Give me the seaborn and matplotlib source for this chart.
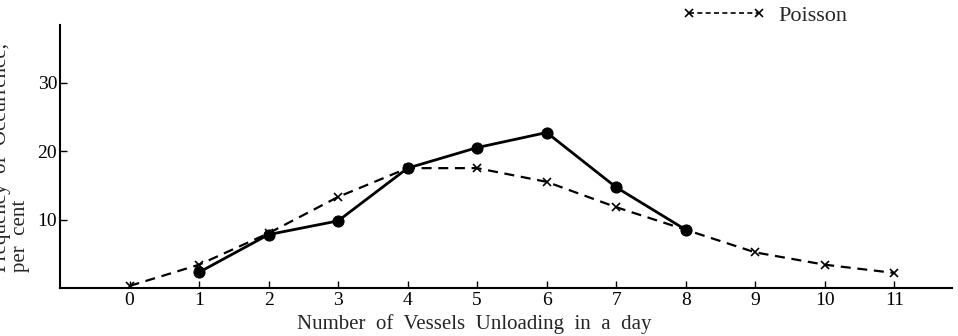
import matplotlib
matplotlib.use("Agg")
import matplotlib.pyplot as plt  # drawing
import seaborn as sns  # styling and line plots
import pandas as pd
from matplotlib.lines import Line2D

# values
vessels_observed = [1, 2, 3, 4, 5, 6, 7, 8]
freq_observed = [2.3, 7.8, 9.8, 17.5, 20.5, 22.7, 14.7, 8.5]

vessels_poisson = [0, 1, 2, 3, 4, 5, 6, 7, 8, 9, 10, 11]
freq_poisson = [0.3, 3.4, 8.0, 13.3, 17.5, 17.5, 15.5, 11.8, 8.5, 5.2, 3.4, 2.2]

x_ticks = list(range(0, 12))
y_ticks = [10, 20, 30]

observed = pd.DataFrame({"vessels": vessels_observed, "freq": freq_observed})
poisson = pd.DataFrame({"vessels": vessels_poisson, "freq": freq_poisson})

sns.set_style("ticks")
plt.rcParams["font.family"] = ["Liberation Serif", "DejaVu Serif"]

fig = plt.figure(figsize=(9.58, 3.36), dpi=100)
ax = fig.add_axes([60 / 958, 48 / 336, 892 / 958, 263 / 336])

# Poisson expectation, dashed with crosses
sns.lineplot(data=poisson, x="vessels", y="freq", ax=ax, color="black",
             linestyle=(0, (4.5, 3)), linewidth=1.6, marker="x",
             markersize=6, markeredgewidth=1.2, markeredgecolor="black",
             zorder=2)
# observed frequencies, solid with dots
sns.lineplot(data=observed, x="vessels", y="freq", ax=ax, color="black",
             linewidth=2.0, marker="o", markersize=8, markeredgecolor="black",
             zorder=3)

ax.set_xlim(-1.0, 11.83)
ax.set_ylim(0, 38.4)
ax.set_xticks(x_ticks)
ax.set_yticks(y_ticks)
ax.tick_params(direction="in", length=5, width=1, labelsize=14, colors="black")
ax.tick_params(axis="x", pad=3)
ax.tick_params(axis="y", pad=2)
sns.despine(ax=ax)
for side in ["left", "bottom"]:
    ax.spines[side].set_linewidth(1.5)
    ax.spines[side].set_color("black")

ax.set_xlabel("")
ax.set_ylabel("")
fig.text(474 / 958, 1 - 324 / 336, "Number  of  Vessels  Unloading  in  a  day",
         ha="center", va="center", fontsize=15)
fig.text(30 / 958, 1 - 272 / 336, "Frequency  of  Occurrence,\nper  cent",
         rotation=90, ha="right", va="bottom", fontsize=15, linespacing=1.0,
         multialignment="left")

# legend entry at top right
handle = Line2D([], [], color="black", linestyle=(0, (3, 2)), linewidth=1.2,
                marker="x", markersize=6, markeredgewidth=1.2)
fig.legend([handle], ["Poisson"], loc="center left",
           bbox_to_anchor=(682 / 958, 1 - 16 / 336), frameon=False,
           fontsize=16, handlelength=3.75, numpoints=2, handletextpad=0.6,
           borderpad=0, borderaxespad=0)

fig.savefig("out.png", dpi=100)
